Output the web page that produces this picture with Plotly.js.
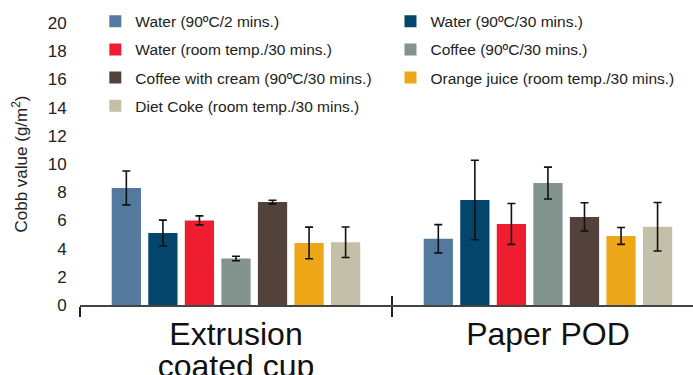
<!DOCTYPE html>
<html>
<head>
<meta charset="utf-8">
<script src="https://cdn.plot.ly/plotly-3.0.1.min.js"></script>
<style>html,body{margin:0;padding:0;background:#fff;}#chart{width:693px;height:375px;}</style>
</head>
<body>
<div id="chart"></div>
<script>
const categories = ["Extrusion coated cup", "Paper POD"];
const tickLine1 = ["Extrusion", "Paper POD"];
const tickLine2 = ["coated cup", ""];
const seriesNames = [
  "Water (90ºC/2 mins.)",
  "Water (90ºC/30 mins.)",
  "Water (room temp./30 mins.)",
  "Coffee (90ºC/30 mins.)",
  "Coffee with cream (90ºC/30 mins.)",
  "Orange juice (room temp./30 mins.)",
  "Diet Coke (room temp./30 mins.)"
];
const waterHot2 = [8.3, 4.7];
const waterHot30 = [5.1, 7.45];
const waterRoom30 = [6.0, 5.75];
const coffee30 = [3.3, 8.65];
const coffeeCream30 = [7.3, 6.25];
const orangeJuice30 = [4.4, 4.9];
const dietCoke30 = [4.45, 5.55];
const errWaterHot2 = [1.2, 1.0];
const errWaterHot30 = [0.92, 2.82];
const errWaterRoom30 = [0.32, 1.45];
const errCoffee30 = [0.16, 1.13];
const errCoffeeCream30 = [0.13, 1.0];
const errOrangeJuice30 = [1.12, 0.6];
const errDietCoke30 = [1.08, 1.72];
const colors = ["#54799f", "#04456c", "#ee1d30", "#83948e", "#53423b", "#eda719", "#c4bfa8"];

const values = [waterHot2, waterHot30, waterRoom30, coffee30, coffeeCream30, orangeJuice30, dietCoke30];
const errs = [errWaterHot2, errWaterHot30, errWaterRoom30, errCoffee30, errCoffeeCream30, errOrangeJuice30, errDietCoke30];
const legendCol = ["legend", "legend2", "legend", "legend2", "legend", "legend2", "legend"];

const FONT = "Liberation Sans, Arial, Helvetica, sans-serif";

const traces = values.map((v, i) => ({
  type: "bar",
  name: seriesNames[i],
  x: categories,
  y: v,
  marker: {color: colors[i], line: {width: 0}},
  error_y: {type: "data", array: errs[i], visible: true, color: "#111", thickness: 1.6, width: 4},
  legend: legendCol[i],
  legendgroup: "g" + i,
  hoverinfo: "skip"
}));

// helper traces to activate overlay axes (upward ticks, second line of tick labels)
traces.push({type: "scatter", x: categories, y: [null, null], xaxis: "x2", yaxis: "y", showlegend: false, hoverinfo: "skip"});
traces.push({type: "scatter", x: categories, y: [null, null], xaxis: "x3", yaxis: "y", showlegend: false, hoverinfo: "skip"});

const legendBase = {
  orientation: "v",
  xref: "paper", yref: "paper",
  xanchor: "left", yanchor: "top",
  bgcolor: "rgba(0,0,0,0)",
  font: {family: FONT, size: 15.5, color: "#222"},
  tracegroupgap: 5,
  itemclick: false
};

const xBase = {
  type: "category",
  range: [-0.5, 1.465],
  showgrid: false,
  zeroline: false,
  fixedrange: true
};

const layout = {
  width: 693, height: 375,
  margin: {l: 80, r: 0, t: 23, b: 70},
  paper_bgcolor: "#fff", plot_bgcolor: "#fff",
  font: {family: FONT, color: "#222"},
  barmode: "group",
  bargap: 0.18,
  bargroupgap: 0.2,
  showlegend: true,
  legend: Object.assign({}, legendBase, {x: 0.025, y: 1.065}),
  legend2: Object.assign({}, legendBase, {x: 0.5065, y: 1.065}),
  xaxis: Object.assign({}, xBase, {
    showline: true,
    linecolor: "#444",
    linewidth: 1.5,
    ticks: "outside",
    tickson: "boundaries",
    ticklen: 10,
    tickwidth: 1.5,
    tickcolor: "#222",
    tickvals: categories,
    ticktext: tickLine1,
    tickfont: {family: FONT, size: 32, color: "#111"}
  }),
  xaxis2: Object.assign({}, xBase, {
    overlaying: "x",
    anchor: "y",
    side: "bottom",
    showline: false,
    ticks: "inside",
    tickson: "boundaries",
    ticklen: 9,
    tickwidth: 1.5,
    tickcolor: "#222",
    showticklabels: false
  }),
  xaxis3: Object.assign({}, xBase, {
    overlaying: "x",
    anchor: "y",
    side: "bottom",
    showline: false,
    ticks: "outside",
    ticklen: 33,
    tickcolor: "rgba(0,0,0,0)",
    tickvals: categories,
    ticktext: tickLine2,
    tickfont: {family: FONT, size: 32, color: "#111"}
  }),
  yaxis: {
    range: [0, 20],
    tickvals: [0, 2, 4, 6, 8, 10, 12, 14, 16, 18, 20],
    showgrid: false,
    zeroline: false,
    showline: false,
    ticks: "outside",
    ticklen: 9,
    tickcolor: "rgba(0,0,0,0)",
    tickfont: {family: FONT, size: 17, color: "#222"},
    title: {text: "Cobb value (g/m<sup>2</sup>)", font: {family: FONT, size: 17, color: "#222"}, standoff: 15},
    fixedrange: true
  }
};

Plotly.newPlot("chart", traces, layout, {displayModeBar: false, staticPlot: true});
</script>
</body>
</html>
